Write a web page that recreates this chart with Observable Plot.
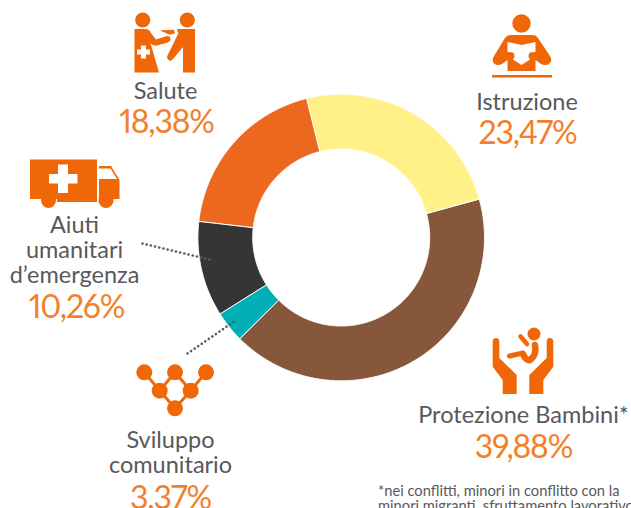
<!DOCTYPE html>
<html><head><meta charset="utf-8">
<script src="https://cdn.jsdelivr.net/npm/d3@7"></script>
<script src="https://cdn.jsdelivr.net/npm/@observablehq/plot@0.6"></script>
<style>html,body{margin:0;padding:0;background:#fff;overflow:hidden}svg{display:block}
.pct text{letter-spacing:-1.2px}</style>
</head><body><div id="chart"></div>
<script>
const categories = ["Istruzione","Protezione Bambini*","Sviluppo comunitario","Aiuti umanitari d’emergenza","Salute"];
const shares = [23.47,39.88,3.37,10.26,18.38];
const shareLabels = ["23,47%","39,88%","3.37%","10,26%","18,38%"];
const sliceColors = ["#fff187","#87573b","#00aeb5","#353535","#ec681f"];

const W=631,H=508,cx=340.7,cy=237,R=143.3,r=88.5,start=-14;
const total=d3.sum(shares);
let acc=start; const verts=[];
categories.forEach((name,i)=>{
  const a0=acc,a1=acc+shares[i]/total*360; acc=a1;
  const n=Math.ceil(a1-a0)*2;
  const pt=(a,rad)=>({name,x:cx+rad*Math.sin(a*Math.PI/180),y:cy-rad*Math.cos(a*Math.PI/180)});
  for(let k=0;k<=n;k++)verts.push(pt(a0+(a1-a0)*k/n,R));
  for(let k=n;k>=0;k--)verts.push(pt(a0+(a1-a0)*k/n,r));
});

const grey="#58595b",pct="#f37f2b",ic="#ef6707";
const names=[
 {t:"Salute",x:165,y:98},{t:"Istruzione",x:526.5,y:109},
 {t:"Aiuti",x:74,y:232},{t:"umanitari",x:74,y:257},{t:"d’emergenza",x:74,y:282},
 {t:"Protezione Bambini*",x:523,y:422},
 {t:"Sviluppo",x:170,y:447},{t:"comunitario",x:170,y:472}];
const pcts=[
 {i:4,x:166,y:132},{i:0,x:527,y:143},{i:3,x:76,y:317},{i:1,x:523,y:457},{i:2,x:170,y:508}];
const notes=[
 {t:"*nei conflitti, minori in conflitto con la",x:377.5,y:495},
 {t:"minori migranti, sfruttamento lavorativo",x:377.5,y:510}];
const leaders=[
 {k:"a",x:142,y:243},{k:"a",x:213,y:260},
 {k:"b",x:187,y:353},{k:"b",x:235,y:320}];

const iconsMarkup=`
<g fill="${ic}" stroke="none">
 <circle cx="142.700" cy="20" r="7.600"/><circle cx="187.300" cy="20" r="7.600"/>
 <path d="M134.500 29H146Q149 29 151 33L156 39.500L167 36Q170.500 36 170.500 39Q170.500 41.500 168 42.500L157 45.500Q154 46 152 44.500L150.500 43L159 72.500H134.500Z"/>
 <path d="M178 29H195V72.500H183V47L173 59Q170.500 62 168 59.500Q166 57.500 168 54.500L178.500 33Q176 30 178 29Z"/>
 <path d="M160.500 29.500l1.500 .8 12-.6 1 3.500-5 1.500-8.500-3.500z"/>
 <path d="M141 45.500h5v4h4v5h-4v4h-5v-4h-4v-5h4z" fill="#fff"/>
 <path d="M30 159.500H97V199H30Z"/>
 <path d="M99 166H111L119.500 180V199H99Z"/>
 <rect x="57" y="199" width="40" height="3"/>
 <circle cx="48.500" cy="200.500" r="7.500"/><circle cx="106" cy="200.500" r="7.500"/>
 <path d="M99 168.500H110.500L117 179H99Z" fill="#fff"/>
 <path d="M58 164.500H68V174H77.500V183.500H68V193H58V183.500H49V174H58Z" fill="#fff"/>
 <circle cx="521.500" cy="23.500" r="9.200"/>
 <path d="M511 35H532Q536 35 538 38L550 56Q553 61 549 64Q545 66 541 64L535.500 60V71H507.500V60L502 64Q498 66 494.500 64Q491 61 494 56L505 38Q507 35 511 35Z"/>
 <path d="M507.500 42L521.500 45L535.500 42V52L530 52.500Q527 56 530 59.500L521.500 65L513 59.500Q516 56 513 52.500L507.500 52Z" fill="#fff"/>
 <rect x="492" y="75" width="60" height="2.500"/>
 <circle cx="534" cy="334" r="6.500"/>
 <path d="M492.700 342Q492.700 338 496 338Q499.300 338 499.300 342V358L516.700 375V394H502.700V380L492.700 366.700Z"/>
 <path d="M553.300 342Q553.300 338 550 338Q546.700 338 546.700 342V358L529.300 375V394H543.300V380L553.300 366.700Z"/>
 <path d="M535 345Q537 355 530 360Q526 361 523 354" stroke="${ic}" stroke-width="6.500" stroke-linecap="round" stroke-linejoin="round" fill="none"/>
 <path d="M523 353L509.500 356" stroke="${ic}" stroke-width="5" stroke-linecap="round" fill="none"/>
 <path d="M520.500 336.500L527 344" stroke="${ic}" stroke-width="4.500" stroke-linecap="round" fill="none"/>
 <g stroke="${ic}" stroke-width="3" fill="none"><path d="M144.300 372.300L159.700 390.700L175 372.300L190.700 390.700L206 372.300M159.700 390.700L175 408.300L190.700 390.700"/></g>
 <circle cx="144.300" cy="372.300" r="8"/><circle cx="175" cy="372.300" r="8"/><circle cx="206" cy="372.300" r="8"/>
 <circle cx="159.700" cy="390.700" r="8"/><circle cx="190.700" cy="390.700" r="8"/><circle cx="175" cy="408.300" r="8"/>
</g>`;
const icons=()=>{
  const g=document.createElementNS("http://www.w3.org/2000/svg","g");
  g.innerHTML=iconsMarkup; return g;
};
const font="Lato";
const chart=Plot.plot({
  width:W,height:H,margin:0,
  x:{domain:[0,W],range:[0,W],axis:null},
  y:{domain:[0,H],range:[0,H],axis:null},
  color:{domain:categories,range:sliceColors},
  style:{background:"#fff",fontFamily:font},
  marks:[
    Plot.line(verts,{x:"x",y:"y",z:"name",fill:"name",stroke:"#fff",strokeWidth:1,curve:"linear-closed"}),
    Plot.line(leaders,{x:"x",y:"y",z:"k",stroke:"#5d5d5d",strokeWidth:2.6,strokeDasharray:"0.1 4.2",strokeLinecap:"round"}),
    icons,
    Plot.text(names,{x:"x",y:"y",text:"t",fill:grey,fontSize:23.5,fontFamily:font,lineAnchor:"bottom"}),
    Plot.text(pcts,{x:"x",y:"y",text:d=>shareLabels[d.i],fill:pct,fontSize:32,fontFamily:font,lineAnchor:"bottom",fontVariant:"proportional-nums",className:"pct"}),
    Plot.text(notes,{x:"x",y:"y",text:"t",fill:grey,fontSize:14.7,fontFamily:font,textAnchor:"start",lineAnchor:"bottom"})
  ]
});
document.getElementById("chart").append(chart);
</script></body></html>
